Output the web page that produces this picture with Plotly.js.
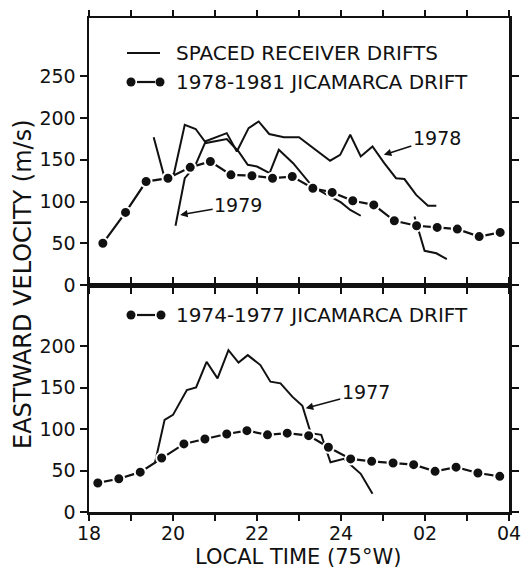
<!DOCTYPE html>
<html>
<head>
<meta charset="utf-8">
<script src="https://cdn.plot.ly/plotly-3.0.1.min.js"></script>
<style>html,body{margin:0;padding:0;background:#fff;}#chart{width:523px;height:571px;}</style>
</head>
<body>
<div id="chart"></div>
<script>
// ---- Data (local time in hours, 24+ = after midnight) ----
var jic7881_t = [18.33,18.87,19.36,19.88,20.41,20.89,21.38,21.88,22.37,22.84,23.33,23.79,24.28,24.78,25.27,25.80,26.29,26.77,27.29,27.79];
var jic7881_v = [50,87,124,128,141,148,132,131,128,130,116,111,101,96,77,71,69,67,58,63];

var sr1978_t = [19.54,19.78,20.02,20.28,20.54,20.76,21.28,21.52,21.80,22.04,22.29,22.64,23.00,23.35,23.74,23.98,24.22,24.47,24.75,25.03,25.31,25.51,25.79,26.07,26.27];
var sr1978_v = [177,132,133,192,187,172,182,160,188,196,181,177,177,164,149,156,180,154,166,146,128,127,108,95,95];

var sr1979_t = [20.06,20.28,20.52,20.76,21.28,21.56,21.78,22.00,22.30,22.52,22.86,23.32,23.67,24.00,24.22,24.47];
var sr1979_v = [71,128,142,170,175,160,144,142,134,162,146,118,108,99,90,83];

var sr1980_t = [25.75,25.99,26.27,26.52];
var sr1980_v = [82,41,38,31];

var jic7477_t = [18.21,18.71,19.22,19.73,20.26,20.76,21.28,21.76,22.25,22.72,23.23,23.70,24.23,24.73,25.24,25.73,26.24,26.74,27.26,27.78];
var jic7477_v = [35,40,48,65,82,88,94,98,93,95,92,78,64,61,59,57,49,54,47,43];

var sr1977_t = [19.57,19.80,20.00,20.33,20.55,20.80,21.06,21.32,21.56,21.78,22.08,22.32,22.56,22.84,23.08,23.28,23.53,23.75,24.07,24.47,24.75];
var sr1977_v = [59,111,117,147,150,181,161,195,180,189,177,157,155,139,128,95,93,60,64,46,22];

var xTickVals = [18,19,20,21,22,23,24,25,26,27,28];
var xTickText = ['18','','20','','22','','24','','02','','04'];
var yTopTicks = [0,50,100,150,200,250];
var yBotTicks = [0,50,100,150,200];

// ---- Styling ----
var INK = '#111';
var FONT = 'DejaVu Sans, Liberation Sans, sans-serif';
var solidLine = {color: INK, width: 2};
function dotTrace(x, y, xa, ya) {
  return {x: x, y: y, xaxis: xa, yaxis: ya, type: 'scatter', mode: 'lines+markers',
    line: {color: INK, width: 2.2},
    marker: {color: INK, size: 11, line: {color: '#fff', width: 2}},
    showlegend: false, hoverinfo: 'skip'};
}
function lineTrace(x, y, xa, ya) {
  return {x: x, y: y, xaxis: xa, yaxis: ya, type: 'scatter', mode: 'lines',
    line: solidLine, showlegend: false, hoverinfo: 'skip'};
}

var traces = [
  lineTrace(sr1978_t, sr1978_v, 'x2', 'y2'),
  lineTrace(sr1979_t, sr1979_v, 'x2', 'y2'),
  lineTrace(sr1980_t, sr1980_v, 'x2', 'y2'),
  dotTrace(jic7881_t, jic7881_v, 'x2', 'y2'),
  lineTrace(sr1977_t, sr1977_v, 'x', 'y'),
  dotTrace(jic7477_t, jic7477_v, 'x', 'y')
];

var split = 227/494;

var xCommon = {range: [18, 28], tickvals: xTickVals, ticktext: xTickText,
  ticks: 'outside', ticklen: 6, tickwidth: 2, tickcolor: INK,
  showline: true, linewidth: 2.5, linecolor: INK, mirror: 'ticks',
  showgrid: false, zeroline: false, fixedrange: true, ticklabelstandoff: -3,
  tickfont: {family: FONT, size: 19, color: INK}};

var yCommon = {ticks: 'outside', ticklen: 7, tickwidth: 2, tickcolor: INK,
  showline: true, linewidth: 2.5, linecolor: INK, mirror: 'ticks',
  showgrid: false, zeroline: false, fixedrange: true,
  tickfont: {family: FONT, size: 19, color: INK}};

function px(p) { return (p - 89) / 420; }
function py(p) { return (512 - p) / 494; }

var shapes = [
  {type: 'line', xref: 'paper', yref: 'paper', x0: px(127), x1: px(160), y0: py(53), y1: py(53), line: {color: INK, width: 2}},
  {type: 'line', xref: 'paper', yref: 'paper', x0: px(137), x1: px(155), y0: py(82), y1: py(82), line: {color: INK, width: 2.2}},
  {type: 'line', xref: 'paper', yref: 'paper', x0: px(137), x1: px(155), y0: py(315), y1: py(315), line: {color: INK, width: 2.2}}
];
[[131,82],[160,82],[131,315],[161,315]].forEach(function(p){
  shapes.push({type: 'circle', xref: 'paper', yref: 'paper', xsizemode: 'pixel', ysizemode: 'pixel',
    xanchor: px(p[0]), yanchor: py(p[1]), x0: -4.5, x1: 4.5, y0: -4.5, y1: 4.5,
    fillcolor: INK, line: {color: INK, width: 0}});
});

function txt(t, x, y, size, extra) {
  var a = {text: t, xref: 'paper', yref: 'paper', x: x, y: y, showarrow: false,
    xanchor: 'left', yanchor: 'middle', font: {family: FONT, size: size, color: INK}};
  for (var k in extra) a[k] = extra[k];
  return a;
}

var annotations = [
  txt('SPACED RECEIVER DRIFTS', px(174), py(53), 20),
  txt('1978-1981 JICAMARCA DRIFT', px(174), py(82), 20),
  txt('1974-1977 JICAMARCA DRIFT', px(174), py(315), 20),
  txt('LOCAL TIME (75°W)', px(298), py(557), 21, {xanchor: 'center', borderpad: 0}),
  txt('EASTWARD VELOCITY (m/s)', px(23), py(284), 24, {xanchor: 'center', textangle: -90}),
  {text: '1978', xref: 'x2', yref: 'y2', x: 25.02, y: 156, ax: 53, ay: -17,
   showarrow: true, arrowhead: 2, arrowsize: 1, arrowwidth: 1.5, arrowcolor: INK, standoff: 0,
   font: {family: FONT, size: 19, color: INK}},
  {text: '1979', xref: 'x2', yref: 'y2', x: 20.17, y: 84, ax: 58, ay: -10,
   showarrow: true, arrowhead: 2, arrowsize: 1, arrowwidth: 1.5, arrowcolor: INK, standoff: 0,
   font: {family: FONT, size: 19, color: INK}},
  {text: '1977', xref: 'x', yref: 'y', x: 23.16, y: 125, ax: 60, ay: -16,
   showarrow: true, arrowhead: 2, arrowsize: 1, arrowwidth: 1.5, arrowcolor: INK, standoff: 0,
   font: {family: FONT, size: 19, color: INK}}
];

var layout = {
  width: 523, height: 571,
  margin: {l: 89, r: 14, t: 18, b: 59},
  paper_bgcolor: '#fff', plot_bgcolor: '#fff',
  showlegend: false,
  xaxis: Object.assign({}, xCommon, {anchor: 'y', domain: [0, 1]}),
  xaxis2: Object.assign({}, xCommon, {anchor: 'y2', matches: 'x', showticklabels: false}),
  yaxis: Object.assign({}, yCommon, {domain: [0, split], range: [0, 273.5], tickvals: yBotTicks, anchor: 'x'}),
  yaxis2: Object.assign({}, yCommon, {domain: [split, 1], range: [0, 320], tickvals: yTopTicks, anchor: 'x2'}),
  shapes: shapes,
  annotations: annotations
};

Plotly.newPlot('chart', traces, layout, {staticPlot: true, displayModeBar: false});
</script>
</body>
</html>
